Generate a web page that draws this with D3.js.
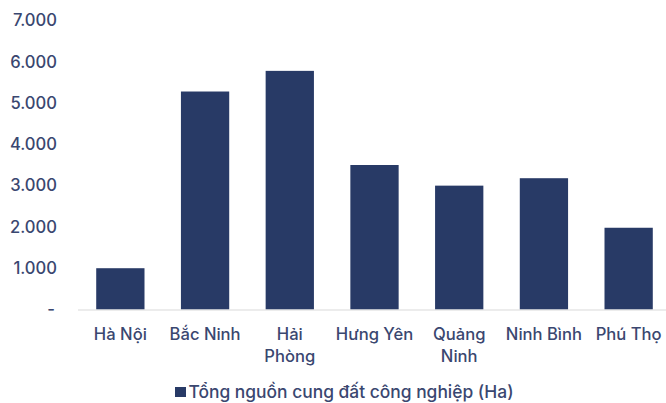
<!DOCTYPE html>
<html>
<head>
<meta charset="utf-8">
<script src="https://cdn.jsdelivr.net/npm/d3@7"></script>
<style>
  html, body { margin: 0; padding: 0; background: #ffffff; }
  svg { display: block; font-family: Inter, "Noto Sans", sans-serif; }
</style>
</head>
<body>
<svg id="chart" width="666" height="403"></svg>
<script>
// Industrial land supply by province (hectares)
const categories = ["Hà Nội", "Bắc Ninh", "Hải Phòng", "Hưng Yên", "Quảng Ninh", "Ninh Bình", "Phú Thọ"];
const supplyHa = [1000, 5280, 5780, 3500, 3000, 3180, 1980];
const wrappedLabels = ["Hải Phòng", "Quảng Ninh"];
const yTicks = [0, 1000, 2000, 3000, 4000, 5000, 6000, 7000];
const seriesName = "Tổng nguồn cung đất công nghiệp (Ha)";

const barColor = "#283a66";
const textColor = "#3a4770";
const fontSize = 16.6;
const legendFontSize = 17.4;
const fontWeight = 500;

const svg = d3.select("#chart");

const x = d3.scaleBand()
  .domain(categories)
  .range([78, 671])
  .paddingInner(0.43)
  .paddingOuter(0.215);

const y = d3.scaleLinear()
  .domain([0, 7000])
  .range([309.5, 20.5]);

const fmt = v => v === 0 ? "-" : d3.format(",")(v).replace(/,/g, ".");

// Y axis labels (no axis line, no gridlines)
const yAxis = d3.axisLeft(y).tickValues(yTicks).tickSize(0).tickPadding(0).tickFormat(fmt);
const gy = svg.append("g").attr("transform", "translate(57,0)").call(yAxis);
gy.select(".domain").remove();
gy.selectAll("text")
  .attr("fill", textColor)
  .attr("font-size", fontSize)
  .attr("font-weight", fontWeight)
  .attr("font-family", "Inter, sans-serif")
  .attr("text-anchor", "end")
  .attr("x", d => d === 0 ? -2 : 0);

// Bars
svg.append("g").selectAll("rect")
  .data(categories)
  .join("rect")
  .attr("x", d => x(d))
  .attr("width", x.bandwidth())
  .attr("y", (d, i) => y(supplyHa[i]))
  .attr("height", (d, i) => y(0) - y(supplyHa[i]))
  .attr("fill", barColor);

// Baseline
svg.append("line")
  .attr("x1", 78).attr("x2", 671)
  .attr("y1", y(0) + 0.5).attr("y2", y(0) + 0.5)
  .attr("stroke", "#d9d9d9").attr("stroke-width", 1.2);

// Category labels
const xAxis = d3.axisBottom(x).tickSize(0).tickPadding(0);
const gx = svg.append("g").attr("transform", `translate(0,${y(0)})`).call(xAxis);
gx.select(".domain").remove();
gx.selectAll("text").each(function(d) {
  const t = d3.select(this);
  t.text(null)
    .attr("fill", textColor)
    .attr("font-size", fontSize)
    .attr("font-weight", fontWeight)
    .attr("font-family", "Inter, sans-serif")
    .attr("dy", null)
    .attr("y", 0);
  const lines = wrappedLabels.includes(d) ? d.split(" ") : [d];
  lines.forEach((ln, k) => {
    t.append("tspan").attr("x", 0).attr("y", 30 + k * 22.5).text(ln);
  });
});

// Legend
const legend = svg.append("g").attr("transform", "translate(175,387)");
legend.append("rect").attr("x", 0).attr("y", 0).attr("width", 11).attr("height", 10).attr("fill", barColor);
legend.append("text")
  .attr("x", 13.5).attr("y", 11)
  .attr("fill", textColor)
  .attr("font-size", legendFontSize)
  .attr("font-weight", fontWeight)
  .attr("font-family", "Inter, sans-serif")
  .text(seriesName);
</script>
</body>
</html>
